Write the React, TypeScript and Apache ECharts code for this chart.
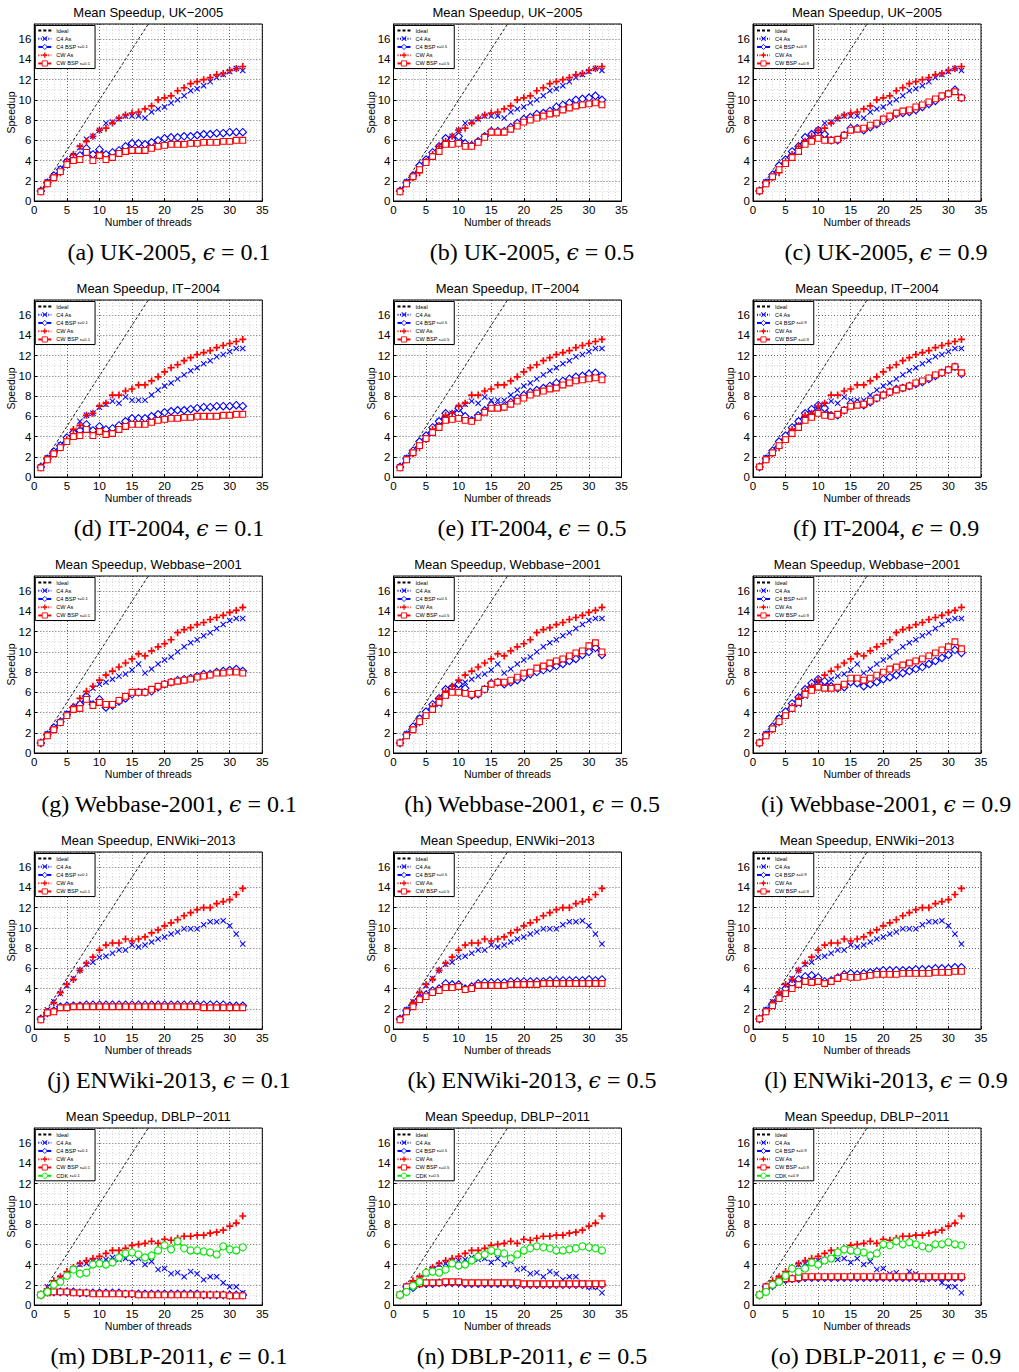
import React, { useEffect, useRef } from 'react';
import * as echarts from 'echarts';

// ---------------- data ----------------
const THREADS = [1,2,3,4,5,6,7,8,9,10,11,12,13,14,15,16,17,18,19,20,21,22,23,24,25,26,27,28,29,30,31,32];
const IDEAL = [1,2,3,4,5,6,7,8,9,10,11,12,13,14,15,16,17,18];
const EPS = ['0.1', '0.5', '0.9'];
const X_TICKS = [0, 5, 10, 15, 20, 25, 30, 35];
const Y_TICKS = [0, 2, 4, 6, 8, 10, 12, 14, 16];

// UK-2005
const UK_C4_AS = [1.0,1.9,2.5,3.2,3.9,4.5,5.3,6.1,6.4,7.0,7.7,7.8,8.1,8.4,8.4,8.4,8.2,8.8,9.1,9.3,9.7,10.0,10.4,10.9,11.1,11.4,11.8,12.2,12.5,12.8,13.1,12.9];
const UK_CW_AS = [1.0,1.7,2.3,2.8,3.9,4.6,5.4,5.9,6.4,7.0,7.2,7.7,8.2,8.5,8.7,8.8,9.1,9.4,10.0,10.2,10.4,10.9,11.2,11.6,11.8,12.0,12.2,12.5,12.6,12.9,13.1,13.3];
const UK_C4_BSP_01 = [1.0,1.8,2.5,3.1,3.9,4.4,4.5,5.2,4.6,5.1,4.6,4.8,5.0,5.4,5.7,5.7,5.6,5.8,6.0,6.2,6.3,6.3,6.4,6.4,6.5,6.6,6.6,6.7,6.7,6.8,6.8,6.8];
const UK_CW_BSP_01 = [0.9,1.7,2.3,2.9,3.6,4.0,4.1,4.8,4.0,4.5,4.1,4.3,4.7,4.9,5.0,5.0,5.0,5.2,5.4,5.5,5.6,5.6,5.6,5.7,5.7,5.8,5.8,5.8,5.9,5.9,6.0,6.0];
const UK_C4_BSP_05 = [1.0,1.8,2.5,3.5,4.1,4.8,5.4,6.2,6.1,6.4,5.7,5.5,5.9,6.4,6.9,6.9,6.9,7.3,7.7,8.1,8.3,8.6,8.7,8.9,9.3,9.5,9.7,10.0,10.1,10.2,10.4,10.0];
const UK_CW_BSP_05 = [0.9,1.7,2.4,3.1,3.8,4.4,4.9,5.6,5.6,5.7,5.4,5.4,5.8,6.3,6.8,6.8,6.8,7.1,7.4,7.8,8.0,8.2,8.4,8.6,8.7,9.0,9.2,9.4,9.5,9.6,9.7,9.5];
const UK_C4_BSP_09 = [1.0,1.8,2.6,3.5,4.1,4.9,5.4,6.3,6.6,7.0,6.6,6.0,6.0,6.5,7.2,7.2,7.0,7.3,7.6,7.9,8.2,8.6,8.7,8.8,9.0,9.3,9.6,9.9,10.3,10.6,11.0,10.2];
const UK_CW_BSP_09 = [1.0,1.7,2.4,3.1,3.7,4.3,4.9,5.6,5.9,6.2,6.0,6.0,6.1,6.5,7.0,7.1,7.2,7.5,7.7,8.1,8.4,8.7,8.9,9.0,9.3,9.5,9.8,10.1,10.4,10.6,10.8,10.2];

// IT-2004
const IT_C4_AS = [1.0,1.9,2.5,3.2,3.8,4.3,5.5,6.1,6.3,6.9,7.2,7.5,7.3,7.9,7.6,7.6,7.6,8.1,8.6,9.0,9.3,9.7,10.1,10.5,10.8,11.2,11.5,11.9,12.1,12.4,12.7,12.7];
const IT_CW_AS = [1.0,1.7,2.3,2.9,3.7,4.7,5.1,6.1,6.3,7.0,7.3,8.1,8.1,8.5,8.7,9.1,9.1,9.5,9.9,10.4,10.8,11.1,11.5,11.8,12.1,12.3,12.5,12.8,13.0,13.2,13.4,13.6];
const IT_C4_BSP_01 = [1.0,1.8,2.5,3.1,3.9,4.4,4.6,5.2,4.6,5.0,4.7,4.8,5.1,5.5,5.8,5.8,5.8,6.0,6.2,6.4,6.5,6.6,6.6,6.7,6.8,6.9,6.9,7.0,7.0,7.0,7.1,7.0];
const IT_CW_BSP_01 = [0.9,1.7,2.3,2.9,3.5,4.0,4.1,4.7,4.1,4.5,4.2,4.3,4.7,5.0,5.2,5.2,5.2,5.4,5.6,5.7,5.8,5.8,5.9,5.9,6.0,6.0,6.0,6.0,6.1,6.1,6.2,6.2];
const IT_C4_BSP_05 = [1.0,1.8,2.6,3.5,4.1,4.9,5.5,6.3,6.1,6.8,6.0,5.6,6.1,6.6,7.1,7.0,7.0,7.4,7.8,8.1,8.4,8.6,8.8,9.0,9.3,9.5,9.7,9.9,10.0,10.2,10.3,10.0];
const IT_CW_BSP_05 = [0.9,1.7,2.4,3.1,3.8,4.4,4.9,5.6,5.7,5.8,5.6,5.5,5.9,6.4,6.8,6.8,6.9,7.2,7.5,7.8,8.1,8.3,8.5,8.7,8.8,9.1,9.3,9.5,9.6,9.7,9.8,9.6];
const IT_C4_BSP_09 = [1.0,1.8,2.6,3.5,4.1,4.9,5.5,6.3,6.7,7.1,6.8,6.1,6.1,6.6,7.3,7.3,7.1,7.4,7.8,8.1,8.4,8.7,8.8,9.0,9.2,9.4,9.7,10.0,10.3,10.6,10.9,10.2];
const IT_CW_BSP_09 = [1.0,1.7,2.4,3.1,3.7,4.3,4.9,5.6,5.9,6.3,6.1,6.0,6.2,6.6,7.0,7.1,7.2,7.5,7.8,8.1,8.4,8.6,8.8,9.0,9.3,9.5,9.8,10.1,10.3,10.6,10.9,10.3];

// Webbase-2001
const WB_C4_AS = [1.0,1.9,2.5,3.1,3.9,4.4,4.8,5.6,6.4,6.8,7.0,7.3,7.6,7.8,8.2,8.8,7.9,8.3,8.8,9.2,9.5,10.0,10.5,10.9,11.2,11.6,11.9,12.3,12.7,13.1,13.3,13.3];
const WB_CW_AS = [1.0,1.7,2.3,3.0,3.7,4.6,5.4,6.1,6.6,7.2,7.7,8.1,8.5,8.9,9.3,9.8,9.6,10.1,10.5,10.8,11.2,11.9,12.2,12.4,12.7,12.9,13.2,13.4,13.6,13.9,14.1,14.4];
const WB_C4_BSP_01 = [1.0,1.8,2.5,3.1,3.8,4.5,4.8,5.6,4.8,5.3,4.5,4.7,5.1,5.4,5.8,6.0,6.0,6.1,6.5,6.8,7.0,7.2,7.3,7.4,7.6,7.8,7.8,8.0,8.1,8.2,8.3,8.1];
const WB_CW_BSP_01 = [1.0,1.7,2.3,3.0,3.7,4.3,4.4,5.3,4.7,5.0,4.8,4.8,5.2,5.6,6.0,6.0,6.0,6.3,6.6,6.8,7.0,7.1,7.2,7.3,7.5,7.6,7.7,7.9,7.9,8.0,8.0,7.9];
const WB_C4_BSP_05 = [1.0,1.8,2.6,3.4,4.1,4.8,5.4,6.3,6.5,6.8,6.4,5.7,5.8,6.3,6.9,7.0,6.8,7.0,7.2,7.5,7.8,8.0,8.2,8.4,8.6,8.8,9.1,9.3,9.7,10.0,10.4,9.7];
const WB_CW_BSP_05 = [1.0,1.7,2.3,3.1,3.7,4.3,5.0,5.7,6.0,6.0,5.9,5.8,5.9,6.3,6.8,7.0,7.0,7.2,7.5,7.9,8.0,8.4,8.6,8.9,9.1,9.3,9.6,9.9,10.1,10.6,10.9,10.0];
const WB_C4_BSP_09 = [1.0,1.8,2.6,3.4,4.1,4.9,5.5,6.3,6.9,7.3,7.1,6.6,6.4,6.5,7.0,6.9,6.6,6.8,7.0,7.3,7.5,7.7,7.9,8.1,8.3,8.5,8.8,9.1,9.4,9.7,10.2,9.9];
const WB_CW_BSP_09 = [1.0,1.7,2.4,3.1,3.7,4.4,5.0,5.8,6.2,6.5,6.4,6.4,6.5,6.8,7.4,7.4,7.2,7.4,7.7,8.0,8.3,8.5,8.7,8.9,9.1,9.3,9.6,9.9,10.2,10.5,11.0,10.3];

// ENWiki-2013
const EN_C4_AS = [1.0,1.9,2.7,3.5,4.3,5.0,5.8,6.4,6.6,7.1,7.2,7.5,7.8,7.8,8.3,8.1,8.3,8.6,8.9,9.1,9.4,9.6,9.9,9.9,9.9,10.3,10.6,10.6,10.7,10.2,9.4,8.4];
const EN_CW_AS = [1.0,1.7,2.6,3.6,4.4,4.9,5.8,6.5,7.1,7.8,8.3,8.5,8.5,8.9,8.7,8.9,9.1,9.5,9.8,10.2,10.5,10.8,11.2,11.5,11.8,12.0,12.0,12.4,12.6,12.8,13.3,13.9];
const EN_C4_BSP_01 = [1.0,1.6,1.8,2.2,2.3,2.3,2.3,2.4,2.4,2.4,2.4,2.4,2.4,2.4,2.4,2.4,2.4,2.4,2.4,2.4,2.4,2.4,2.4,2.4,2.4,2.4,2.4,2.4,2.4,2.3,2.3,2.3];
const EN_CW_BSP_01 = [0.9,1.6,1.7,2.1,2.1,2.2,2.2,2.2,2.2,2.2,2.2,2.2,2.2,2.2,2.2,2.2,2.2,2.2,2.2,2.2,2.2,2.2,2.2,2.2,2.2,2.1,2.1,2.1,2.1,2.1,2.1,2.1];
const EN_C4_BSP_05 = [1.0,1.8,2.4,3.0,3.4,3.8,4.0,4.5,4.4,4.4,4.0,4.2,4.5,4.6,4.6,4.6,4.6,4.7,4.7,4.7,4.7,4.7,4.7,4.8,4.8,4.8,4.8,4.8,4.8,4.9,4.8,4.9];
const EN_CW_BSP_05 = [0.9,1.7,2.2,2.9,3.2,3.6,3.8,4.1,4.1,4.2,3.9,4.0,4.3,4.3,4.3,4.3,4.3,4.4,4.4,4.4,4.4,4.4,4.5,4.5,4.5,4.5,4.5,4.5,4.5,4.5,4.5,4.5];
const EN_C4_BSP_09 = [1.0,1.8,2.5,3.2,4.0,4.5,4.9,5.2,5.3,5.1,4.7,4.8,5.1,5.4,5.5,5.4,5.5,5.6,5.7,5.8,5.8,5.8,5.8,5.8,5.9,5.9,5.9,6.0,6.0,6.0,6.1,6.1];
const EN_CW_BSP_09 = [1.0,1.7,2.3,3.0,3.5,4.0,4.4,4.7,4.6,4.7,4.5,4.7,5.0,5.2,5.1,5.1,5.2,5.3,5.4,5.4,5.4,5.4,5.5,5.5,5.5,5.5,5.5,5.6,5.6,5.6,5.7,5.7];

// DBLP-2011
const DB_C4_AS = [1.0,1.8,2.1,2.7,3.1,3.6,4.0,4.1,4.3,4.4,4.5,4.7,4.5,4.6,4.2,4.6,4.0,4.3,3.5,3.6,3.1,3.2,2.8,3.3,3.1,2.5,2.8,2.8,2.2,1.8,1.8,1.2];
const DB_CW_AS = [1.0,1.6,2.4,2.8,3.3,3.7,4.1,4.4,4.6,4.8,5.1,5.4,5.4,5.6,5.9,6.0,6.1,6.3,6.1,6.5,6.4,6.6,6.8,6.8,6.9,6.9,7.1,7.2,7.4,7.8,8.1,8.8];
const DB_C4_BSP_01 = [1.0,1.3,1.3,1.3,1.3,1.3,1.2,1.2,1.2,1.2,1.2,1.2,1.2,1.1,1.1,1.1,1.1,1.1,1.1,1.1,1.1,1.1,1.1,1.1,1.1,1.0,1.0,1.0,1.0,1.0,1.0,1.0];
const DB_CW_BSP_01 = [1.0,1.2,1.3,1.3,1.3,1.2,1.2,1.2,1.1,1.1,1.1,1.1,1.1,1.1,1.1,1.0,1.0,1.0,1.0,1.0,1.0,1.0,1.0,1.0,1.0,1.0,1.0,1.0,1.0,0.9,0.9,0.9];
const DB_C4_BSP_05 = [1.0,1.8,1.7,2.1,2.1,2.1,2.2,2.2,2.2,2.2,2.1,2.1,2.1,2.1,2.1,2.1,2.1,2.1,2.0,2.0,2.0,2.0,2.0,2.0,2.0,2.0,2.0,2.0,2.0,1.9,1.9,2.0];
const DB_CW_BSP_05 = [1.0,1.8,2.0,2.1,2.2,2.2,2.2,2.3,2.3,2.3,2.2,2.2,2.2,2.2,2.2,2.2,2.2,2.2,2.2,2.1,2.1,2.1,2.1,2.1,2.1,2.1,2.1,2.1,2.1,2.1,2.1,2.1];
const DB_C4_BSP_09 = [1.0,1.8,1.9,2.4,2.5,2.6,2.6,2.7,2.7,2.7,2.7,2.7,2.7,2.7,2.7,2.7,2.7,2.7,2.7,2.7,2.7,2.7,2.7,2.7,2.7,2.7,2.7,2.7,2.7,2.7,2.7,2.7];
const DB_CW_BSP_09 = [1.0,1.8,2.0,2.4,2.6,2.6,2.7,2.8,2.8,2.8,2.8,2.8,2.8,2.8,2.8,2.8,2.8,2.8,2.8,2.8,2.8,2.8,2.8,2.8,2.8,2.8,2.8,2.8,2.8,2.8,2.8,2.8];
const DB_CDK_01 = [1.0,1.3,2.0,2.3,2.9,3.5,3.1,3.2,4.0,4.1,4.0,4.2,4.7,5.1,5.2,5.0,4.7,4.9,5.4,5.9,5.5,6.3,5.6,5.4,5.4,5.3,5.2,5.0,5.8,5.5,5.4,5.7];
const DB_CDK_05 = [1.0,1.3,1.9,2.3,3.2,3.3,3.2,3.5,4.1,3.9,4.0,4.4,4.8,5.0,5.4,5.2,5.1,4.6,5.0,5.4,5.6,5.8,5.7,5.6,5.4,5.4,5.5,5.6,5.8,5.7,5.6,5.4];
const DB_CDK_09 = [1.0,1.3,2.0,2.3,2.9,3.6,3.3,3.6,4.2,4.0,4.4,4.6,5.2,5.5,5.4,5.3,5.2,4.9,5.1,6.0,5.9,6.3,6.0,6.2,6.0,5.8,5.6,6.0,6.0,6.2,6.0,5.9];

const DATASETS = [
  { title: 'UK\u22122005', caption: 'UK-2005', c4as: UK_C4_AS, cwas: UK_CW_AS, c4bsp: [UK_C4_BSP_01, UK_C4_BSP_05, UK_C4_BSP_09], cwbsp: [UK_CW_BSP_01, UK_CW_BSP_05, UK_CW_BSP_09], cdk: null },
  { title: 'IT\u22122004', caption: 'IT-2004', c4as: IT_C4_AS, cwas: IT_CW_AS, c4bsp: [IT_C4_BSP_01, IT_C4_BSP_05, IT_C4_BSP_09], cwbsp: [IT_CW_BSP_01, IT_CW_BSP_05, IT_CW_BSP_09], cdk: null },
  { title: 'Webbase\u22122001', caption: 'Webbase-2001', c4as: WB_C4_AS, cwas: WB_CW_AS, c4bsp: [WB_C4_BSP_01, WB_C4_BSP_05, WB_C4_BSP_09], cwbsp: [WB_CW_BSP_01, WB_CW_BSP_05, WB_CW_BSP_09], cdk: null },
  { title: 'ENWiki\u22122013', caption: 'ENWiki-2013', c4as: EN_C4_AS, cwas: EN_CW_AS, c4bsp: [EN_C4_BSP_01, EN_C4_BSP_05, EN_C4_BSP_09], cwbsp: [EN_CW_BSP_01, EN_CW_BSP_05, EN_CW_BSP_09], cdk: null },
  { title: 'DBLP\u22122011', caption: 'DBLP-2011', c4as: DB_C4_AS, cwas: DB_CW_AS, c4bsp: [DB_C4_BSP_01, DB_C4_BSP_05, DB_C4_BSP_09], cwbsp: [DB_CW_BSP_01, DB_CW_BSP_05, DB_CW_BSP_09], cdk: [DB_CDK_01, DB_CDK_05, DB_CDK_09] },
];

// ---------------- layout / style ----------------
const COL_LEFT = [34.3, 393.5, 753];
const ROW_TOP = [24, 300, 576, 852, 1128];
const GRID_W = 228;
const GRID_H = 177;
const CAPTION_X = [169, 532, 886];
const SANS = '"Liberation Sans", Arial, Helvetica, sans-serif';
const SERIF = '"Liberation Serif", "Times New Roman", serif';
const BLUE = '#0000ff';
const RED = '#ff0000';
const GREEN = '#00e600';
const PLUS = 'path://M3.8,0H6.2V3.8H10V6.2H6.2V10H3.8V6.2H0V3.8H3.8Z';
const CROSS = 'path://M1.2,0L5,3.8L8.8,0L10,1.2L6.2,5L10,8.8L8.8,10L5,6.2L1.2,10L0,8.8L3.8,5L0,1.2Z';

function pairs(ys: number[]) {
  return ys.map((y, i) => [THREADS[i], y]);
}

function buildOption() {
  const grid: any[] = [];
  const xAxis: any[] = [];
  const yAxis: any[] = [];
  const series: any[] = [];
  const legend: any[] = [];
  const graphic: any[] = [];
  let idx = 0;
  DATASETS.forEach((ds, r) => {
    EPS.forEach((eps, c) => {
      const i = idx++;
      const left = COL_LEFT[c];
      const top = ROW_TOP[r];
      grid.push({ left, top, width: GRID_W, height: GRID_H, show: true, borderColor: '#000', borderWidth: 1, backgroundColor: '#fff' });
      xAxis.push({
        type: 'value', gridIndex: i, min: X_TICKS[0], max: X_TICKS[X_TICKS.length - 1], interval: 5,
        name: 'Number of threads', nameLocation: 'middle', nameGap: 15, nameMoveOverlap: false,
        nameTextStyle: { fontFamily: SANS, fontSize: 10.5, color: '#000' },
        axisLine: { show: true, lineStyle: { color: '#000', width: 1 } },
        axisTick: { show: true, inside: true, length: 3, lineStyle: { color: '#000' } },
        axisLabel: { fontFamily: SANS, fontSize: 11.5, color: '#000', margin: 3 },
        splitLine: { show: true, lineStyle: { color: '#000', width: 0.6, type: [1, 2] } },
        minorSplitLine: { show: true, lineStyle: { color: '#b0b0b0', width: 0.5, type: [1, 2] } },
        minorTick: { show: false, splitNumber: 5 },
      });
      yAxis.push({
        type: 'value', gridIndex: i, min: Y_TICKS[0], max: 17.5, interval: 2,
        name: 'Speedup', nameLocation: 'middle', nameGap: 17.5, nameMoveOverlap: false,
        nameTextStyle: { fontFamily: SANS, fontSize: 10.5, color: '#000' },
        axisLine: { show: true, lineStyle: { color: '#000', width: 1 } },
        axisTick: { show: true, inside: true, length: 3, lineStyle: { color: '#000' } },
        axisLabel: { fontFamily: SANS, fontSize: 11.5, color: '#000', margin: 3, showMaxLabel: false },
        splitLine: { show: true, lineStyle: { color: '#000', width: 0.6, type: [1, 2] } },
        minorSplitLine: { show: true, lineStyle: { color: '#b0b0b0', width: 0.5, type: [1, 2] } },
        minorTick: { show: false, splitNumber: 2 },
      });
      const common = { type: 'line', xAxisIndex: i, yAxisIndex: i, animation: false, clip: true };
      const names: any[] = [];
      series.push({ ...common, name: 'Ideal', data: IDEAL.map((v) => [v, v]), symbol: 'none', lineStyle: { color: '#000', width: 0.9, type: [3, 2] }, itemStyle: { color: '#000' } });
      names.push({ name: 'Ideal', itemStyle: { opacity: 0 } });
      series.push({ ...common, name: 'C4 As', data: pairs(ds.c4as), symbol: CROSS, symbolSize: 6, itemStyle: { color: BLUE }, lineStyle: { color: BLUE, width: 0.7, type: [1, 1.5] } });
      names.push({ name: 'C4 As', itemStyle: { color: BLUE, borderWidth: 0 } });
      const c4n = 'C4 BSP \u03b5=' + eps;
      series.push({ ...common, name: c4n, data: pairs(ds.c4bsp[c]), symbol: 'diamond', symbolSize: 7.5, itemStyle: { color: '#fff', borderColor: BLUE, borderWidth: 1.1 }, lineStyle: { color: BLUE, width: 1.3 } });
      names.push({ name: c4n, itemStyle: { color: '#fff', borderColor: BLUE, borderWidth: 0.9 } });
      series.push({ ...common, name: 'CW As', data: pairs(ds.cwas), symbol: PLUS, symbolSize: 7, itemStyle: { color: RED }, lineStyle: { color: RED, width: 0.7, type: [1, 1.5] } });
      names.push({ name: 'CW As', itemStyle: { color: RED, borderWidth: 0 } });
      const cwn = 'CW BSP \u03b5=' + eps;
      series.push({ ...common, name: cwn, data: pairs(ds.cwbsp[c]), symbol: 'rect', symbolSize: 5.8, itemStyle: { color: '#fff', borderColor: RED, borderWidth: 1.1 }, lineStyle: { color: RED, width: 1.3 } });
      names.push({ name: cwn, itemStyle: { color: '#fff', borderColor: RED, borderWidth: 0.9 } });
      if (ds.cdk) {
        const cdn = 'CDK \u03b5=' + eps;
        series.push({ ...common, name: cdn, data: pairs(ds.cdk[c]), symbol: 'circle', symbolSize: 7, itemStyle: { color: '#fff', borderColor: GREEN, borderWidth: 1.1 }, lineStyle: { color: GREEN, width: 1.3 } });
        names.push({ name: cdn, itemStyle: { color: '#fff', borderColor: GREEN, borderWidth: 0.9 } });
      }
      legend.push({
        left: left + 1, top: top + 1.5, orient: 'vertical', itemGap: 2.2, itemWidth: 13, itemHeight: 6.5,
        padding: [2, 5, 2, 2], backgroundColor: '#fff', borderColor: '#000', borderWidth: 1,
        selectedMode: false, data: names,
        formatter: (n: string) => n.replace(/(\u03b5=0\.\d)/, '{s|$1}'),
        textStyle: { fontFamily: SANS, fontSize: 5.6, color: '#000', rich: { s: { fontFamily: SANS, fontSize: 4.2, color: '#000' } } },
      });
      graphic.push({
        type: 'text', x: left + GRID_W / 2, y: top - 12, silent: true,
        style: { text: 'Mean Speedup, ' + ds.title, fontFamily: SANS, fontSize: 13, fill: '#000', align: 'center', verticalAlign: 'middle' },
      });
      const letter = 'abcdefghijklmno'[i];
      graphic.push({
        type: 'text', x: CAPTION_X[c], y: top + 228, silent: true,
        style: {
          text: '(' + letter + ') ' + ds.caption + ', {e|\u03f5} = ' + eps,
          fontFamily: SERIF, fontSize: 24, fill: '#000', align: 'center', verticalAlign: 'middle',
          rich: { e: { fontFamily: '"DejaVu Serif", serif', fontStyle: 'italic', fontSize: 22, fill: '#000' } },
        },
      });
    });
  });
  return { animation: false, backgroundColor: '#fff', grid, xAxis, yAxis, series, legend, graphic };
}

export default function App() {
  const ref = useRef<HTMLDivElement>(null);
  useEffect(() => {
    if (!ref.current) return;
    const chart = echarts.init(ref.current, undefined, { renderer: 'svg' });
    chart.setOption(buildOption() as any);
    return () => chart.dispose();
  }, []);
  return <div ref={ref} style={{ position: 'absolute', left: 0, top: 0, width: 1019, height: 1372, background: '#fff' }} />;
}
